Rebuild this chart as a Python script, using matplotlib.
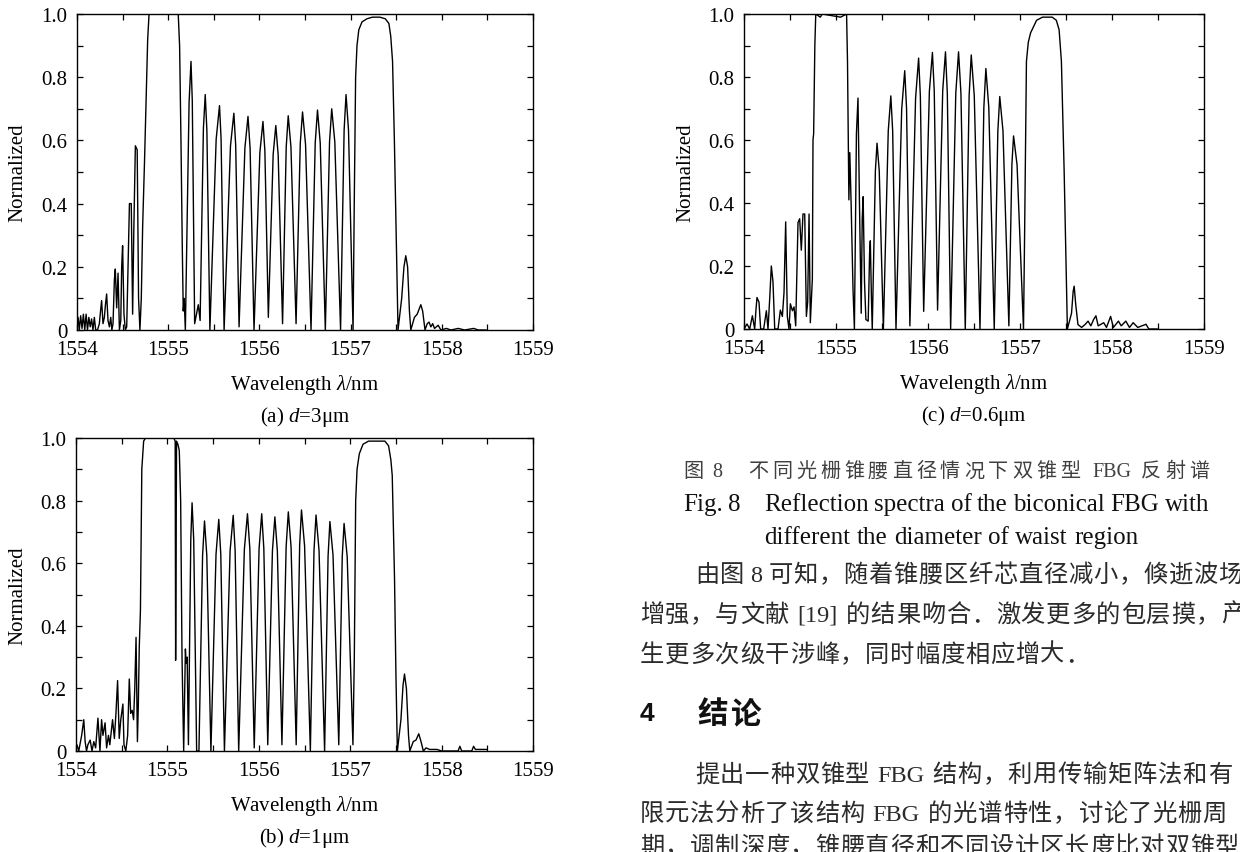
import matplotlib
matplotlib.use("Agg")
import matplotlib.pyplot as plt
from matplotlib.font_manager import FontProperties

# ---------------- data ----------------
wl_a = [1554.000, 1554.012, 1554.025, 1554.040, 1554.055, 1554.070, 1554.085, 1554.100, 1554.115, 1554.130,
        1554.145, 1554.160, 1554.175, 1554.190, 1554.205, 1554.225, 1554.245, 1554.258, 1554.270, 1554.285,
        1554.300, 1554.312, 1554.325, 1554.340, 1554.355, 1554.370, 1554.382, 1554.395, 1554.410, 1554.420,
        1554.435, 1554.450, 1554.465, 1554.480, 1554.490, 1554.500, 1554.515, 1554.530, 1554.545, 1554.560,
        1554.575, 1554.595, 1554.610, 1554.622, 1554.640, 1554.660, 1554.675, 1554.690, 1554.705, 1554.720,
        1554.740, 1554.760, 1554.775, 1554.790, 1555.110, 1555.125, 1555.140, 1555.155, 1555.165, 1555.175,
        1555.188, 1555.229, 1555.250, 1555.264, 1555.290, 1555.310, 1555.330, 1555.350, 1555.386, 1555.406,
        1555.424, 1555.457, 1555.526, 1555.5625, 1555.580, 1555.613, 1555.683, 1555.720, 1555.740, 1555.777,
        1555.841, 1555.875, 1555.898, 1555.941, 1556.005, 1556.039, 1556.060, 1556.098, 1556.151, 1556.180,
        1556.206, 1556.254, 1556.294, 1556.316, 1556.346, 1556.402, 1556.448, 1556.473, 1556.506, 1556.566,
        1556.612, 1556.637, 1556.667, 1556.723, 1556.769, 1556.793, 1556.827, 1556.890, 1556.929, 1556.950,
        1556.977, 1557.027, 1557.040, 1557.055, 1557.070, 1557.090, 1557.125, 1557.180, 1557.240, 1557.320,
        1557.380, 1557.420, 1557.440, 1557.460, 1557.480, 1557.500, 1557.520, 1557.560, 1557.585, 1557.605,
        1557.625, 1557.645, 1557.660, 1557.700, 1557.730, 1557.770, 1557.790, 1557.816, 1557.840, 1557.860,
        1557.880, 1557.900, 1557.920, 1557.960, 1557.990, 1558.050, 1558.100, 1558.180, 1558.250, 1558.350,
        1558.400, 1558.485]
refl_a = [0.00, 0.04, 0.00, 0.045, 0.005, 0.05, 0.00, 0.05, 0.00, 0.04,
          0.01, 0.035, 0.00, 0.04, 0.00, 0.00, 0.02, 0.06, 0.093, 0.02,
          0.04, 0.08, 0.114, 0.03, 0.01, 0.04, 0.00, 0.02, 0.16, 0.193,
          0.07, 0.18, 0.00, 0.03, 0.20, 0.267, 0.05, 0.00, 0.01, 0.20,
          0.40, 0.40, 0.05, 0.30, 0.583, 0.57, 0.10, 0.00, 0.10, 0.33,
          0.53, 0.75, 0.92, 1.00, 1.00, 0.90, 0.60, 0.25, 0.06, 0.10,
          0.00, 0.72, 0.85, 0.726, 0.02, 0.05, 0.08, 0.03, 0.638, 0.745,
          0.633, 0.00, 0.604, 0.71, 0.604, 0.00, 0.583, 0.686, 0.585, 0.01,
          0.576, 0.676, 0.575, 0.00, 0.561, 0.66, 0.567, 0.04, 0.556, 0.647,
          0.553, 0.02, 0.579, 0.678, 0.579, 0.02, 0.590, 0.69, 0.587, 0.00,
          0.592, 0.696, 0.592, 0.00, 0.595, 0.70, 0.595, 0.00, 0.633, 0.745,
          0.633, 0.00, 0.40, 0.80, 0.90, 0.95, 0.975, 0.985, 0.99, 0.99,
          0.985, 0.97, 0.93, 0.85, 0.60, 0.30, 0.00, 0.10, 0.20, 0.235,
          0.20, 0.06, 0.00, 0.04, 0.05, 0.08, 0.06, 0.00, 0.02, 0.025,
          0.01, 0.02, 0.005, 0.015, 0.00, 0.005, 0.00, 0.005, 0.00, 0.005,
          0.00, 0.00]

wl_b = [1554.000, 1554.010, 1554.030, 1554.062, 1554.085, 1554.100, 1554.115, 1554.130, 1554.155, 1554.175,
        1554.195, 1554.215, 1554.240, 1554.262, 1554.280, 1554.295, 1554.318, 1554.335, 1554.355, 1554.370,
        1554.400, 1554.420, 1554.437, 1554.455, 1554.473, 1554.490, 1554.513, 1554.525, 1554.545, 1554.565,
        1554.583, 1554.598, 1554.615, 1554.630, 1554.643, 1554.657, 1554.672, 1554.682, 1554.692, 1554.705,
        1554.720, 1554.740, 1554.760, 1555.070, 1555.085, 1555.090, 1555.095, 1555.100, 1555.115, 1555.130,
        1555.145, 1555.160, 1555.178, 1555.197, 1555.205, 1555.216, 1555.230, 1555.256, 1555.270, 1555.288,
        1555.320, 1555.345, 1555.385, 1555.406, 1555.431, 1555.476, 1555.532, 1555.562, 1555.584, 1555.624,
        1555.686, 1555.720, 1555.741, 1555.780, 1555.842, 1555.876, 1555.902, 1555.950, 1556.003, 1556.032,
        1556.055, 1556.098, 1556.149, 1556.176, 1556.203, 1556.253, 1556.299, 1556.323, 1556.353, 1556.409,
        1556.447, 1556.467, 1556.501, 1556.564, 1556.604, 1556.626, 1556.659, 1556.720, 1556.758, 1556.778,
        1556.812, 1556.875, 1556.913, 1556.933, 1556.967, 1557.030, 1557.045, 1557.060, 1557.075, 1557.100,
        1557.140, 1557.200, 1557.380, 1557.420, 1557.445, 1557.460, 1557.485, 1557.500, 1557.516, 1557.555,
        1557.578, 1557.594, 1557.615, 1557.638, 1557.652, 1557.690, 1557.720, 1557.750, 1557.775, 1557.800,
        1557.830, 1557.870, 1557.950, 1558.000, 1558.180, 1558.200, 1558.220, 1558.330, 1558.350, 1558.370,
        1558.490]
refl_b = [0.01, 0.02, 0.00, 0.05, 0.10, 0.03, 0.00, 0.02, 0.035, 0.00,
          0.03, 0.01, 0.105, 0.00, 0.10, 0.05, 0.09, 0.01, 0.05, 0.02,
          0.10, 0.04, 0.12, 0.225, 0.04, 0.10, 0.15, 0.02, 0.00, 0.05,
          0.23, 0.12, 0.13, 0.10, 0.20, 0.363, 0.03, 0.15, 0.33, 0.45,
          0.90, 0.99, 1.00, 1.00, 0.99, 0.29, 0.64, 0.99, 0.98, 0.96,
          0.80, 0.30, 0.00, 0.326, 0.28, 0.30, 0.02, 0.677, 0.793, 0.674,
          0.00, 0.00, 0.625, 0.735, 0.625, 0.00, 0.629, 0.74, 0.629, 0.00,
          0.640, 0.753, 0.640, 0.00, 0.644, 0.758, 0.646, 0.01, 0.646, 0.758,
          0.647, 0.02, 0.639, 0.748, 0.639, 0.02, 0.652, 0.764, 0.652, 0.02,
          0.658, 0.77, 0.655, 0.00, 0.641, 0.754, 0.641, 0.00, 0.623, 0.733,
          0.626, 0.02, 0.621, 0.727, 0.621, 0.02, 0.30, 0.80, 0.90, 0.95,
          0.98, 0.99, 0.99, 0.975, 0.93, 0.88, 0.55, 0.25, 0.00, 0.10,
          0.21, 0.246, 0.20, 0.05, 0.00, 0.03, 0.035, 0.055, 0.03, 0.00,
          0.01, 0.005, 0.005, 0.00, 0.00, 0.015, 0.00, 0.00, 0.015, 0.005,
          0.005]

wl_c = [1554.000, 1554.033, 1554.062, 1554.091, 1554.116, 1554.130, 1554.141, 1554.163, 1554.181, 1554.214,
        1554.243, 1554.261, 1554.280, 1554.297, 1554.315, 1554.334, 1554.370, 1554.395, 1554.417, 1554.435,
        1554.453, 1554.471, 1554.489, 1554.504, 1554.526, 1554.544, 1554.562, 1554.587, 1554.605, 1554.623,
        1554.641, 1554.660, 1554.678, 1554.692, 1554.707, 1554.721, 1554.743, 1554.750, 1554.757, 1554.770,
        1554.780, 1554.830, 1554.850, 1555.050, 1555.115, 1555.125, 1555.140, 1555.150, 1555.165, 1555.185,
        1555.200, 1555.222, 1555.239, 1555.255, 1555.274, 1555.285, 1555.295, 1555.310, 1555.325, 1555.350,
        1555.365, 1555.373, 1555.385, 1555.394, 1555.428, 1555.446, 1555.470, 1555.515, 1555.568, 1555.596,
        1555.616, 1555.652, 1555.714, 1555.747, 1555.767, 1555.803, 1555.865, 1555.898, 1555.917, 1555.953,
        1556.015, 1556.048, 1556.068, 1556.104, 1556.160, 1556.190, 1556.210, 1556.246, 1556.302, 1556.332,
        1556.358, 1556.405, 1556.447, 1556.470, 1556.503, 1556.565, 1556.607, 1556.629, 1556.661, 1556.720,
        1556.759, 1556.780, 1556.815, 1556.879, 1556.912, 1556.930, 1556.968, 1557.038, 1557.050, 1557.070,
        1557.090, 1557.115, 1557.180, 1557.245, 1557.350, 1557.395, 1557.425, 1557.450, 1557.480, 1557.515,
        1557.560, 1557.578, 1557.589, 1557.605, 1557.630, 1557.670, 1557.710, 1557.740, 1557.770, 1557.800,
        1557.825, 1557.850, 1557.880, 1557.910, 1557.940, 1557.985, 1558.015, 1558.070, 1558.100, 1558.150,
        1558.190, 1558.230, 1558.280, 1558.370, 1558.400, 1558.490]
refl_c = [0.00, 0.016, 0.00, 0.042, 0.00, 0.06, 0.10, 0.085, 0.00, 0.00,
          0.058, 0.00, 0.10, 0.20, 0.15, 0.00, 0.00, 0.06, 0.04, 0.116,
          0.34, 0.04, 0.00, 0.08, 0.058, 0.07, 0.01, 0.338, 0.35, 0.25,
          0.365, 0.365, 0.04, 0.085, 0.365, 0.02, 0.16, 0.60, 0.62, 0.90,
          1.00, 0.99, 1.00, 0.99, 1.00, 0.85, 0.41, 0.56, 0.39, 0.125,
          0.00, 0.62, 0.733, 0.40, 0.05, 0.35, 0.42, 0.15, 0.03, 0.025,
          0.24, 0.28, 0.10, 0.00, 0.502, 0.59, 0.502, 0.00, 0.629, 0.74,
          0.629, 0.00, 0.697, 0.82, 0.699, 0.01, 0.733, 0.86, 0.739, 0.056,
          0.755, 0.878, 0.755, 0.06, 0.757, 0.88, 0.748, 0.00, 0.748, 0.88,
          0.748, 0.00, 0.740, 0.87, 0.740, 0.00, 0.703, 0.827, 0.703, 0.00,
          0.627, 0.738, 0.629, 0.01, 0.523, 0.613, 0.521, 0.00, 0.30, 0.85,
          0.91, 0.94, 0.98, 0.99, 0.99, 0.98, 0.95, 0.85, 0.50, 0.00,
          0.05, 0.12, 0.136, 0.08, 0.014, 0.005, 0.015, 0.025, 0.01, 0.03,
          0.042, 0.01, 0.015, 0.02, 0.005, 0.04, 0.005, 0.025, 0.01, 0.025,
          0.005, 0.02, 0.005, 0.015, 0.00, 0.00]

x_range = (1554, 1559)
y_range = (0, 1)
x_ticks = [1554, 1555, 1556, 1557, 1558, 1559]
x_tick_labels = ["1554", "1555", "1556", "1557", "1558", "1559"]
x_minor_ticks = [1554.5, 1555.5, 1556.5, 1557.5, 1558.5]
y_ticks = [0, 0.2, 0.4, 0.6, 0.8, 1.0]
y_tick_labels = ["0", "0.2", "0.4", "0.6", "0.8", "1.0"]
y_minor_ticks = [0.1, 0.3, 0.5, 0.7, 0.9]
captions = ["(a) $d$=3μm", "(b) $d$=1μm", "(c) $d$=0.6μm"]
x_label = "Wavelength $\\lambda$/nm"
y_label = "Normalized"

# ---------------- figure ----------------
W, H, DPI = 1240, 853, 100
plt.rcParams['font.family'] = ['Liberation Serif', 'DejaVu Serif']
plt.rcParams['mathtext.fontset'] = 'custom'
plt.rcParams['mathtext.rm'] = 'Liberation Serif'
plt.rcParams['mathtext.it'] = 'Liberation Serif:italic'
plt.rcParams['mathtext.bf'] = 'Liberation Serif:bold'

fig = plt.figure(figsize=(W / DPI, H / DPI), dpi=DPI)
fig.patch.set_facecolor('white')

panels = [
    (wl_a, refl_a, (77, 15, 533, 331), 18, captions[0]),
    (wl_b, refl_b, (76, 439, 533, 752), 18, captions[1]),
    (wl_c, refl_c, (744, 15, 1204, 330), 686, captions[2]),
]
for wl, rf, (l, t, r, b), ylx, cap in panels:
    ax = fig.add_axes([l / W, 1 - b / H, (r - l) / W, (b - t) / H])
    ax.plot(wl, rf, color='black', lw=1.0)
    ax.set_xlim(*x_range)
    ax.set_ylim(*y_range)
    ax.set_xticks(x_ticks)
    ax.set_xticklabels(x_tick_labels)
    ax.set_xticks(x_minor_ticks, minor=True)
    ax.set_yticks(y_ticks)
    ax.set_yticklabels(y_tick_labels)
    ax.set_yticks(y_minor_ticks, minor=True)
    ax.tick_params(which='both', direction='in', top=True, right=True,
                   length=4, width=0.9, labelsize=15)
    ax.tick_params(axis='x', which='major', pad=7)
    ax.tick_params(axis='y', which='major', pad=7)
    for s in ax.spines.values():
        s.set_linewidth(1.0)
    cx = (l + r) / 2
    fig.text(cx / W, 1 - (b + 54) / H, x_label, ha='center', va='center', fontsize=15)
    fig.text(cx / W, 1 - (b + 86) / H, cap, ha='center', va='center', fontsize=15)
    fig.text(ylx / W, 1 - ((t + b) / 2) / H, y_label, rotation=90,
             ha='center', va='center', fontsize=15)

# ---------------- page text ----------------
renderer = fig.canvas.get_renderer()


def is_cjk(ch):
    return ord(ch) >= 0x2E80


def tokenize(s):
    toks, buf = [], ''
    for ch in s:
        if ch == ' ' or is_cjk(ch):
            if buf:
                toks.append(('lat', buf))
                buf = ''
            toks.append(('sp' if ch == ' ' else 'cjk', ch))
        else:
            buf += ch
    if buf:
        toks.append(('lat', buf))
    return toks


def draw_line(x0, yc, s, size, adv, space=6.0, x1=None, color='#2b2b2b',
              weight='normal', lat_family='Liberation Serif', cjk_family='Noto Sans CJK SC'):
    fl = FontProperties(family=lat_family, size=size, weight=weight)
    fc = FontProperties(family=cjk_family, size=size, weight=weight)
    toks = tokenize(s)
    widths = []
    for k, t in toks:
        if k == 'cjk':
            widths.append(adv)
        elif k == 'lat':
            w, h, d = renderer.get_text_width_height_descent(t, fl, ismath=False)
            widths.append(w + 1.5)
        else:
            widths.append(None)
    nsp = sum(1 for k, _ in toks if k == 'sp')
    if x1 is not None and nsp:
        space = (x1 - x0 - sum(w for w in widths if w is not None)) / nsp
    em = size * DPI / 72
    yb = yc + 0.36 * em
    x = x0
    for (k, t), w in zip(toks, widths):
        if k == 'sp':
            x += space
            continue
        fig.text(x / W, 1 - yb / H, t, fontproperties=(fc if k == 'cjk' else fl),
                 color=color, ha='left', va='baseline')
        x += w


# figure caption
draw_line(683, 470, '图 8', 14.5, 24, space=5, color='#404040')
draw_line(748, 470, '不同光栅锥腰直径情况下双锥型 FBG 反射谱', 14.5, 24, x1=1213, color='#404040')
draw_line(683, 502, 'Fig. 8', 18, 22, space=4, color='#111111')
draw_line(764, 502, 'Reflection spectra of the biconical FBG with', 18, 22, x1=1211, color='#111111')
draw_line(764, 535, 'different the diameter of waist region', 18, 22, x1=1140, color='#111111')

# body text
draw_line(695, 573, '由图 8 可知，随着锥腰区纤芯直径减小，倏逝波场', 17.5, 25, space=5)
draw_line(640, 613, '增强，与文献 [19] 的结果吻合．激发更多的包层摸，产', 17.5, 25, space=7)
draw_line(640, 653, '生更多次级干涉峰，同时幅度相应增大．', 17.5, 25)

# section heading
fig.text(640 / W, 1 - (712 + 9) / H, '4', fontproperties=FontProperties(
    family='Liberation Sans', size=19, weight='bold'), color='#111111', ha='left', va='baseline')
draw_line(697, 712, '结论', 22, 33, weight='bold', color='#111111')

draw_line(695, 773, '提出一种双锥型 FBG 结构，利用传输矩阵法和有', 17.5, 25, space=7)
draw_line(640, 812, '限元法分析了该结构 FBG 的光谱特性，讨论了光栅周', 17.5, 25, space=7)
draw_line(640, 845, '期，调制深度，锥腰直径和不同设计区长度比对双锥型', 17.5, 25)

fig.savefig('out.png', dpi=DPI, facecolor='white')
